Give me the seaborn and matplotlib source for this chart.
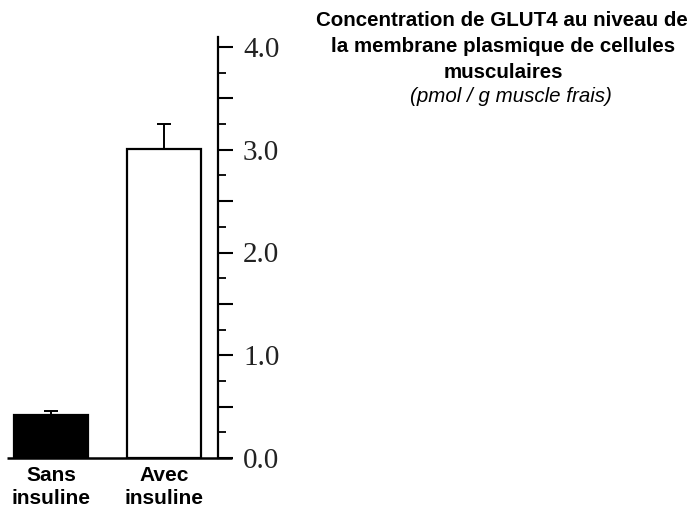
import matplotlib
matplotlib.use("Agg")
import matplotlib.pyplot as plt
import seaborn as sns
import pandas as pd
import numpy as np
from matplotlib.ticker import FixedLocator, FuncFormatter, MultipleLocator

categories = ["Sans\ninsuline", "Avec\ninsuline"]
values = [0.42, 3.01]
errors = [0.04, 0.24]
bar_colors = ["black", "white"]
ytick_values = [0.0, 1.0, 2.0, 3.0, 4.0]

sns.set_theme(style="white")
plt.rcParams["font.family"] = ["Liberation Sans", "DejaVu Sans"]

W, H = 700, 518
fig = plt.figure(figsize=(7.0, 5.18), dpi=100)
ax = fig.add_axes([0 / W, 1 - 458 / H, 218 / W, (458 - 37) / H])

df = pd.DataFrame({"cat": categories, "val": values})
sns.barplot(data=df, x="cat", y="val", hue="cat", palette=bar_colors,
            order=categories, hue_order=categories, legend=False,
            edgecolor="black", linewidth=1.6, width=0.655, ax=ax, errorbar=None)

xs = np.arange(len(categories))
ax.errorbar(xs, values, yerr=[[0] * len(errors), errors], fmt="none",
            ecolor="black", elinewidth=1.4, capsize=5, capthick=1.4, zorder=3)

ax.set_xlim(-51 / 113, (218 - 51) / 113)
ax.set_ylim(0, (458 - 37) / 102.75)

for s in ["left", "top", "bottom"]:
    ax.spines[s].set_visible(False)
ax.spines["right"].set_visible(True)
ax.spines["right"].set_color("black")
ax.spines["right"].set_linewidth(1.6)

ax.yaxis.tick_right()
ax.yaxis.set_major_locator(FixedLocator(np.arange(0, 4.01, 0.5)))
ax.yaxis.set_minor_locator(MultipleLocator(0.25))
ax.yaxis.set_major_formatter(FuncFormatter(
    lambda v, p: f"{v:.1f}" if any(abs(v - t) < 1e-6 for t in ytick_values) else ""))
ax.tick_params(axis="y", which="major", direction="out", length=11, width=1.5,
               color="black", pad=7, labelsize=21, right=True, left=False)
ax.tick_params(axis="y", which="minor", direction="out", length=6, width=1.3,
               color="black", right=True, left=False)
for lab in ax.get_yticklabels():
    lab.set_fontfamily(["Liberation Serif", "DejaVu Serif"])
    lab.set_color("#222222")

ax.set_xlabel("")
ax.set_ylabel("")
ax.tick_params(axis="x", length=0, pad=6, labelsize=15)
for lab in ax.get_xticklabels():
    lab.set_fontweight("bold")
    lab.set_color("black")
    lab.set_linespacing(1.25)

# baseline extending across the y spine
ax.plot([7 / 218, 232 / 218], [0, 0], transform=ax.transAxes, color="black",
        lw=1.8, clip_on=False, solid_capstyle="butt", zorder=4)

title_lines = [
    ("Concentration de GLUT4 au niveau de", 26, "bold", "normal", 502),
    ("la membrane plasmique de cellules", 52, "bold", "normal", 503),
    ("musculaires", 78, "bold", "normal", 503),
    ("(pmol / g muscle frais)", 102, "normal", "italic", 511),
]
for txt, yb, wt, st, xc in title_lines:
    fig.text(xc / W, 1 - yb / H, txt, ha="center", va="baseline", fontsize=14.8,
             fontweight=wt, fontstyle=st, color="black")

fig.savefig("out.png", dpi=100, facecolor="white")
